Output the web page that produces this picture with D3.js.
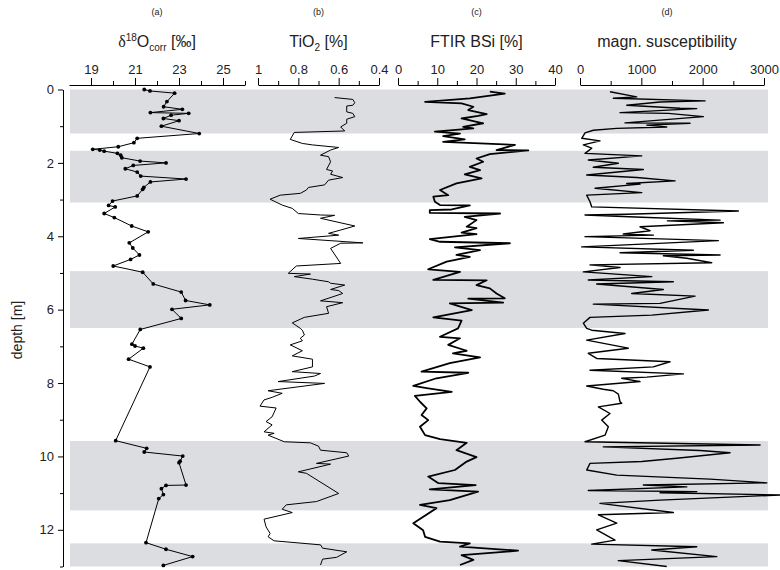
<!DOCTYPE html>
<html>
<head>
<meta charset="utf-8">
<script src="https://cdn.jsdelivr.net/npm/d3@7"></script>
<style>
  body { margin: 0; background: #fff; }
  text { font-family: "Liberation Sans", Arial, sans-serif; fill: #222; }
</style>
</head>
<body>
<script>
// shaded depth intervals [top, bottom] in m
var shadeBands = [[0, 1.2], [1.67, 3.08], [4.95, 6.5], [9.58, 11.47], [12.37, 13]];

// (a) d18O corr [permil] : [depth, value]
var d18o = [[0.00,21.42],[0.04,21.68],[0.10,22.80],[0.33,22.45],[0.47,22.30],[0.54,23.15],[0.63,21.70],[0.65,23.44],
  [0.70,22.64],[0.79,22.29],[0.85,23.00],[1.00,22.20],[1.20,23.92],[1.33,21.10],[1.45,20.95],[1.56,20.24],[1.63,19.08],
  [1.65,19.40],[1.68,19.60],[1.74,20.20],[1.79,20.35],[1.86,20.40],[1.95,21.23],[2.00,22.41],[2.07,20.92],[2.16,20.56],
  [2.25,21.10],[2.36,21.26],[2.44,23.32],[2.52,21.70],[2.67,21.40],[2.72,21.35],[2.90,21.10],[3.04,19.98],[3.16,19.80],
  [3.20,20.10],[3.38,19.60],[3.49,20.06],[3.72,20.85],[3.88,21.60],[4.18,20.74],[4.32,20.90],[4.51,21.20],[4.63,20.80],
  [4.81,20.01],[4.98,21.35],[5.30,21.83],[5.52,23.10],[5.75,23.30],[5.87,24.40],[5.99,22.68],[6.24,23.10],[6.54,21.24],
  [6.94,20.86],[6.99,21.00],[7.05,21.38],[7.35,20.71],[7.56,21.68],[9.57,20.12],[9.78,21.53],[9.88,21.42],[9.99,23.17],
  [10.13,23.05],[10.17,23.00],[10.78,23.32],[10.79,22.41],[10.88,22.20],[11.04,22.29],[11.15,22.08],[12.35,21.50],
  [12.53,22.41],[12.73,23.62],[12.97,22.29]];

// (b) TiO2 [%]
var tio2 = [[0.22,0.62],[0.27,0.53],[0.36,0.52],[0.43,0.53],[0.45,0.56],[0.61,0.56],[0.65,0.53],[0.74,0.52],[0.81,0.56],
  [0.92,0.56],[1.02,0.59],[1.13,0.57],[1.17,0.82],[1.36,0.84],[1.47,0.78],[1.51,0.73],[1.58,0.60],[1.65,0.64],[1.79,0.69],
  [1.83,0.65],[1.97,0.64],[2.18,0.66],[2.22,0.63],[2.31,0.64],[2.40,0.58],[2.47,0.65],[2.60,0.67],[2.67,0.75],[2.74,0.76],
  [2.83,0.79],[2.88,0.89],[2.99,0.94],[3.15,0.88],[3.24,0.83],[3.38,0.80],[3.42,0.69],[3.43,0.62],[3.51,0.69],[3.72,0.52],
  [3.83,0.59],[3.92,0.65],[3.97,0.60],[4.06,0.80],[4.15,0.56],[4.18,0.48],[4.19,0.59],[4.33,0.64],[4.74,0.59],[4.81,0.81],
  [5.01,0.85],[5.03,0.74],[5.10,0.82],[5.17,0.73],[5.24,0.65],[5.28,0.64],[5.33,0.57],[5.45,0.64],[5.48,0.60],[5.56,0.58],
  [5.76,0.69],[5.81,0.58],[5.92,0.66],[6.10,0.65],[6.21,0.77],[6.36,0.83],[6.51,0.79],[6.56,0.78],[6.69,0.77],[6.78,0.79],
  [6.85,0.78],[6.96,0.84],[7.12,0.78],[7.26,0.83],[7.35,0.73],[7.56,0.73],[7.69,0.83],[7.74,0.69],[7.81,0.72],[7.96,0.90],
  [8.01,0.67],[8.21,0.95],[8.28,0.88],[8.39,0.93],[8.46,0.97],[8.63,0.99],[8.68,0.91],[8.92,0.93],[9.05,0.96],[9.14,0.93],
  [9.33,0.97],[9.37,0.92],[9.42,0.95],[9.60,0.87],[9.63,0.74],[9.72,0.70],[9.83,0.69],[9.90,0.56],[9.99,0.55],[10.19,0.71],
  [10.21,0.64],[10.42,0.80],[10.46,0.76],[11.01,0.60],[11.23,0.71],[11.32,0.86],[11.44,0.88],[11.53,0.83],[11.71,0.97],
  [11.92,0.96],[12.10,0.94],[12.19,0.95],[12.30,0.92],[12.41,0.69],[12.50,0.68],[12.60,0.56],[12.75,0.61],[12.80,0.68],
  [12.96,0.69]];

// (c) FTIR BSi [%]
var bsi = [[0.06,23.4],[0.11,27.2],[0.24,18.3],[0.34,6.9],[0.38,16.2],[0.47,19.2],[0.56,17.9],[0.67,22.6],[0.72,20.4],
  [0.79,16.2],[0.92,21.7],[1.02,16.6],[1.06,19.2],[1.15,9.4],[1.20,15.8],[1.27,11.5],[1.36,17.0],[1.43,11.5],[1.47,20.9],
  [1.51,29.8],[1.65,25.1],[1.66,33.2],[1.76,23.4],[1.88,20.0],[1.97,21.7],[2.11,18.3],[2.20,20.9],[2.31,17.0],[2.42,21.3],
  [2.56,14.9],[2.74,10.7],[2.88,12.8],[2.92,9.0],[3.06,9.4],[3.15,10.7],[3.16,18.3],[3.27,13.7],[3.29,8.1],[3.36,8.1],
  [3.38,26.0],[3.47,17.0],[3.56,20.0],[3.74,17.5],[3.78,20.0],[3.90,16.2],[3.94,20.0],[4.08,8.1],[4.15,10.7],[4.19,28.5],
  [4.30,14.5],[4.38,20.9],[4.51,14.9],[4.56,18.3],[4.69,12.4],[4.90,7.7],[4.97,15.8],[5.19,9.0],[5.20,22.6],[5.33,20.0],
  [5.42,23.4],[5.56,25.1],[5.69,27.2],[5.70,17.9],[5.81,26.8],[5.83,13.2],[6.01,18.8],[6.21,9.0],[6.30,16.2],[6.51,15.3],
  [6.74,10.7],[6.78,15.8],[6.96,12.8],[7.12,17.5],[7.19,14.0],[7.30,20.9],[7.46,13.2],[7.69,6.0],[7.72,17.9],[7.87,9.8],
  [8.08,3.9],[8.14,7.3],[8.24,13.7],[8.35,4.3],[8.51,5.6],[8.69,7.3],[8.87,6.0],[9.01,7.7],[9.19,5.6],[9.42,6.9],
  [9.53,10.7],[9.63,17.5],[9.83,14.9],[10.02,20.0],[10.14,17.5],[10.37,14.5],[10.55,7.7],[10.73,10.3],[10.78,19.8],
  [10.90,8.1],[10.96,20.4],[11.19,13.2],[11.32,5.6],[11.41,9.8],[11.82,3.9],[12.01,6.4],[12.19,6.9],[12.32,10.7],
  [12.37,18.3],[12.46,15.8],[12.57,30.6],[12.69,16.2],[12.82,19.2],[12.96,15.8]];

// (d) magnetic susceptibility
var magSus = [[0.06,489],[0.20,925],[0.24,543],[0.31,2039],[0.34,1305],[0.43,762],[0.51,1631],[0.52,1904],[0.63,653],
  [0.65,1440],[0.74,2011],[0.91,734],[0.92,1794],[0.97,1088],[1.02,1414],[1.06,599],[1.11,217],[1.18,82],[1.33,28],
  [1.40,326],[1.51,54],[1.60,191],[1.74,82],[1.81,1007],[1.92,135],[2.01,625],[2.12,217],[2.18,1033],[2.33,109],
  [2.40,925],[2.49,1550],[2.56,762],[2.58,979],[2.69,245],[2.81,1007],[2.88,109],[3.06,163],[3.20,191],[3.31,2582],
  [3.40,762],[3.42,82],[3.48,1007],[3.56,2284],[3.58,1424],[3.63,2338],[3.74,979],[3.85,1142],[3.94,706],[3.97,1196],
  [4.01,82],[4.12,2256],[4.29,28],[4.38,1848],[4.45,653],[4.51,2284],[4.53,1359],[4.60,1741],[4.72,2148],[4.78,163],
  [4.85,653],[4.97,54],[5.10,1170],[5.19,135],[5.24,1522],[5.30,272],[5.45,1359],[5.56,843],[5.63,1876],[5.83,1305],
  [5.85,217],[6.01,2093],[6.15,1170],[6.21,163],[6.37,54],[6.51,109],[6.56,191],[6.65,734],[6.83,109],[7.05,788],
  [7.19,135],[7.33,272],[7.42,1468],[7.56,1196],[7.65,163],[7.75,1685],[7.84,1088],[7.87,680],[7.96,979],[8.08,109],
  [8.17,380],[8.21,543],[8.30,625],[8.51,653],[8.55,680],[8.65,299],[8.83,489],[9.01,354],[9.19,462],[9.42,408],
  [9.60,82],[9.69,2936],[9.74,380],[9.84,1958],[9.90,2447],[10.05,1577],[10.14,1007],[10.19,163],[10.37,109],
  [10.51,599],[10.62,2121],[10.72,3046],[10.78,1033],[10.83,1741],[10.93,135],[10.96,1904],[10.99,1305],[11.05,3263],
  [11.19,1305],[11.28,326],[11.53,1522],[11.59,299],[11.82,599],[12.00,272],[12.28,571],[12.39,191],[12.46,1904],
  [12.55,1170],[12.73,2230],[12.84,625],[13.00,1414]];

var svg = d3.select('body').append('svg')
    .attr('width', 780)
    .attr('height', 570);

var y = d3.scaleLinear().domain([0, 13]).range([89.5, 566.5]);

var panels = [
  { key: '(a)', data: d18o, dots: true, width: 1,
    x: d3.scaleLinear().domain([18, 26]).range([69, 245]),
    major: [19, 21, 23, 25], minor: [20, 22, 24, 26], fmt: d3.format('d') },
  { key: '(b)', data: tio2, width: 1,
    x: d3.scaleLinear().domain([1, 0.4]).range([258, 379]),
    major: [1, 0.8, 0.6, 0.4], minor: [0.9, 0.7, 0.5], fmt: function (v) { return v === 1 ? '1' : d3.format('.1f')(v); } },
  { key: '(c)', data: bsi, width: 1.8,
    x: d3.scaleLinear().domain([0, 40]).range([398, 555]),
    major: [0, 10, 20, 30, 40], minor: [5, 15, 25, 35], fmt: d3.format('d') },
  { key: '(d)', data: magSus, width: 1.4,
    x: d3.scaleLinear().domain([0, 3000]).range([580, 764]),
    major: [0, 1000, 2000, 3000], minor: [500, 1500, 2500], fmt: d3.format('d') }
];

// grey bands
svg.selectAll('rect.band')
  .data(shadeBands)
  .enter()
  .append('rect')
  .attr('x', 70)
  .attr('width', 698)
  .attr('y', function (d) { return y(d[0]); })
  .attr('height', function (d) { return y(d[1]) - y(d[0]); })
  .attr('fill', '#dcdde0');

// depth axis
var yAxis = svg.append('g').attr('transform', 'translate(63,0)')
  .call(d3.axisLeft(y).tickValues([0, 2, 4, 6, 8, 10, 12]).tickSize(5).tickSizeOuter(0).tickPadding(4));
svg.append('g').attr('transform', 'translate(63,0)')
  .call(d3.axisLeft(y).tickValues([1, 3, 5, 7, 9, 11, 13]).tickSize(3).tickFormat('').tickSizeOuter(0));
yAxis.selectAll('text').attr('font-size', 13).attr('font-family', '"Liberation Sans", Arial, sans-serif').attr('fill', '#222');

svg.append('text')
  .attr('transform', 'translate(22,330) rotate(-90)')
  .attr('text-anchor', 'middle')
  .attr('font-size', 14)
  .text('depth [m]');

panels.forEach(function (p) {
  var g = svg.append('g').attr('transform', 'translate(0,85)');
  g.call(d3.axisTop(p.x).tickValues(p.major).tickSize(7).tickSizeOuter(0).tickPadding(4).tickFormat(p.fmt));
  g.selectAll('text').attr('font-size', 13).attr('font-family', '"Liberation Sans", Arial, sans-serif').attr('fill', '#222');
  svg.append('g').attr('transform', 'translate(0,85)')
    .call(d3.axisTop(p.x).tickValues(p.minor).tickSize(4).tickFormat('').tickSizeOuter(0))
    .select('.domain').remove();

  var line = d3.line()
    .x(function (d) { return p.x(d[1]); })
    .y(function (d) { return y(d[0]); });
  svg.append('path')
    .attr('d', line(p.data))
    .attr('fill', 'none')
    .attr('stroke', '#000')
    .attr('stroke-width', p.width)
    .attr('stroke-linejoin', 'round');

  if (p.dots) {
    svg.selectAll('circle.dot')
      .data(p.data)
      .enter()
      .append('circle')
      .attr('cx', function (d) { return p.x(d[1]); })
      .attr('cy', function (d) { return y(d[0]); })
      .attr('r', 1.9)
      .attr('fill', '#000');
  }
});

// column titles
var mid = function (p) { return (p.x.range()[0] + p.x.range()[1]) / 2; };
panels.forEach(function (p, i) {
  svg.append('text')
    .attr('x', i === 3 ? mid(p) - 5 : mid(p))
    .attr('y', 15)
    .attr('text-anchor', 'middle')
    .attr('font-size', 9)
    .text(p.key);
});

var t = svg.append('text').attr('x', mid(panels[0])).attr('y', 47).attr('text-anchor', 'middle').attr('font-size', 16);
t.append('tspan').attr('font-family', '"Liberation Serif", serif').text('\u03b4');
t.append('tspan').attr('font-size', 10).attr('dy', -6).text('18');
t.append('tspan').attr('dy', 6).text('O');
t.append('tspan').attr('font-size', 10).attr('dy', 4).text('corr');
t.append('tspan').attr('dy', -4).text(' [\u2030]');

var t2 = svg.append('text').attr('x', mid(panels[1])).attr('y', 47).attr('text-anchor', 'middle').attr('font-size', 16);
t2.append('tspan').text('TiO');
t2.append('tspan').attr('font-size', 10).attr('dy', 4).text('2');
t2.append('tspan').attr('dy', -4).text(' [%]');

svg.append('text').attr('x', mid(panels[2])).attr('y', 47).attr('text-anchor', 'middle').attr('font-size', 16).text('FTIR BSi [%]');
svg.append('text').attr('x', mid(panels[3]) - 5).attr('y', 47).attr('text-anchor', 'middle').attr('font-size', 16).text('magn. susceptibility');
</script>
</body>
</html>
